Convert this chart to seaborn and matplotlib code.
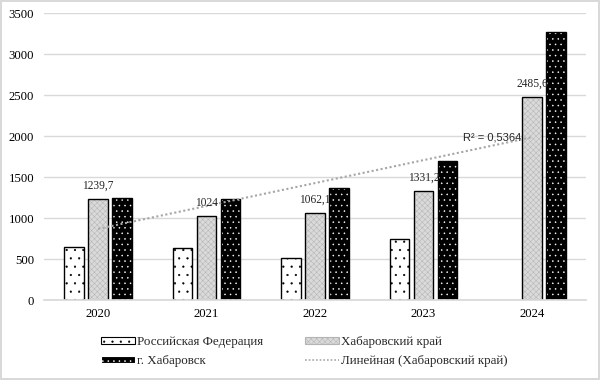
import numpy as np
import pandas as pd
import matplotlib
matplotlib.use("Agg")
import matplotlib.pyplot as plt
from matplotlib.patches import Rectangle, Patch
from matplotlib.lines import Line2D
import seaborn as sns

years = ["2020", "2021", "2022", "2023", "2024"]
series = ["Российская Федерация", "Хабаровский край", "г. Хабаровск"]
rf = [651, 631, 516, 741, np.nan]
krai = [1239.7, 1024.0, 1062.1, 1331.2, 2485.6]
city = [1249, 1233, 1364, 1697, 3268]
krai_labels = ["1239,7", "1024", "1062,1", "1331,2", "2485,6"]
r2_text = "R² = 0,5364"
trend_name = "Линейная (Хабаровский край)"

df = pd.DataFrame({
    "year": years * 3,
    "series": [s for s in series for _ in years],
    "value": rf + krai + city,
})

sns.set_theme(style="white")
plt.rcParams["font.family"] = ["Liberation Serif", "DejaVu Serif"]
plt.rcParams["hatch.linewidth"] = 0.35

fig = plt.figure(figsize=(6, 3.8), dpi=100)
fig.patch.set_edgecolor("#d9d9d9")
fig.patch.set_linewidth(1.5)
ax = fig.add_axes([0.073, 0.2105, 0.904, 0.754])

sns.barplot(data=df, x="year", y="value", hue="series", order=years,
            hue_order=series, width=0.665, gap=0.2, errorbar=None,
            ax=ax, legend=False)

# заливка / штриховка / цвет штриховки
styles = [("white", "..", "black"),
          ("#dadada", "xxxxxx", "#b4b4b4"),
          ("black", "...", "white")]

for cont, (fc, h, hc) in zip(ax.containers, styles):
    for bar in cont:
        bar.set_facecolor(fc)
        bar.set_hatch(h)
        bar.set_edgecolor(hc)
        bar.set_linewidth(0)
        ax.add_patch(Rectangle(bar.get_xy(), bar.get_width(), bar.get_height(),
                               fill=False, edgecolor="black", linewidth=1, zorder=2))

ax.bar_label(ax.containers[1], labels=krai_labels, padding=5, fontsize=8.3, zorder=5)

# линейный тренд (Хабаровский край)
xs = np.arange(len(years))
k, b = np.polyfit(xs, krai, 1)
ax.plot(xs, k * xs + b, color="#a6a6a6", linestyle=(0, (1, 1.2)), linewidth=1.5, zorder=4)
ax.annotate(r2_text, (xs[-1], k * xs[-1] + b), xytext=(-8, 0),
            textcoords="offset points", ha="right", va="center",
            fontsize=8, family=["Liberation Sans", "DejaVu Sans"])

ax.set_ylim(0, 3500)
ax.set_yticks(range(0, 3501, 500))
ax.set_xlim(-0.5, len(years) - 0.5)
ax.yaxis.grid(True, color="#d9d9d9", linewidth=1)
ax.set_axisbelow(True)
for s in ["left", "right", "top"]:
    ax.spines[s].set_visible(False)
ax.spines["bottom"].set_color("#d9d9d9")
ax.tick_params(axis="both", length=0, labelsize=9.2, colors="black")
ax.tick_params(axis="y", pad=7)
ax.tick_params(axis="x", pad=6)
ax.set_xlabel("")
ax.set_ylabel("")

handles = [
    Patch(facecolor=styles[0][0], hatch=styles[0][1], edgecolor="black", linewidth=0.8, label=series[0]),
    Patch(facecolor=styles[2][0], hatch=styles[2][1], edgecolor=styles[2][2], linewidth=0.8, label=series[2]),
    Patch(facecolor=styles[1][0], hatch=styles[1][1], edgecolor=styles[1][2], linewidth=0.8, label=series[1]),
    Line2D([], [], color="#a6a6a6", linestyle=(0, (1, 1.2)), linewidth=1.2, label=trend_name),
]
fig.legend(handles=handles, ncol=2, loc="center", bbox_to_anchor=(304 / 600, 1 - 351.5 / 380),
           frameon=False, fontsize=9.4, handlelength=2.6, handleheight=0.45,
           handletextpad=0.15, columnspacing=3.2, labelspacing=0.55)

fig.savefig("out.png", dpi=100)
